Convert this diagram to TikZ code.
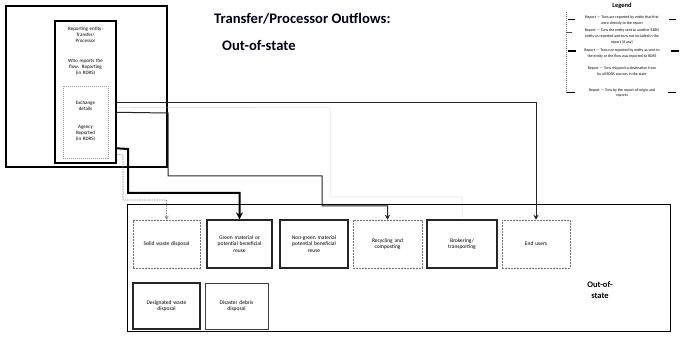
\documentclass[tikz,border=0pt]{standalone}
\usepackage{fontspec}
\setmainfont{Carlito}
\usetikzlibrary{arrows.meta,calc}
\hyphenpenalty=10000
\exhyphenpenalty=10000
\begin{document}
\begin{tikzpicture}[x=1pt,y=-1pt,
  frame/.style={draw=black,line width=1.6pt,inner sep=0pt},
  boxthick/.style={draw=black!85,line width=1.3pt,minimum height=48pt,align=center,font=\fontsize{5.5}{6.6}\selectfont,text width=60pt,inner sep=0pt},
  boxdash/.style={draw=black!55,line width=0.5pt,dash pattern=on 2pt off 1pt,minimum height=48pt,align=center,font=\fontsize{5.5}{6.6}\selectfont,text width=60pt,inner sep=0pt},
  boxmed/.style={draw=black!75,line width=0.8pt,minimum height=46pt,align=center,font=\fontsize{5.5}{6.6}\selectfont,text width=56pt,inner sep=0pt},
  srctxt/.style={align=center,font=\fontsize{5}{6}\selectfont,text width=52pt,inner sep=0pt},
  legtxt/.style={font=\fontsize{3.9}{4.6}\selectfont,inner sep=0pt,anchor=center},
  heavy/.style={draw=black,line width=2pt,-{Stealth[length=7pt,width=7pt]}},
  medium/.style={draw=black!85,line width=1pt,-{Stealth[length=5pt,width=5pt]}},
  faint/.style={draw=black!45,line width=0.6pt,dash pattern=on 1.5pt off 1pt,-{Stealth[length=4pt,width=4pt]}},
  faintline/.style={draw=black!30,line width=0.5pt,dash pattern=on 1pt off 1pt}]
\useasboundingbox (0,0) rectangle (681,339);

% title
\node[anchor=base west,inner sep=0pt,font=\fontsize{14.6}{17}\selectfont\bfseries,text=black!92!blue] (title1) at (214,24) {Transfer/Processor Outflows:};
\node[anchor=base west,inner sep=0pt,font=\fontsize{14.6}{17}\selectfont\bfseries,text=black!92!blue] (title2) at (222,51) {Out-of-state};

% source frame
\node[frame,minimum width=161pt,minimum height=161pt] (srcframe) at (86.5,86.5) {};
\node[draw=black,line width=1.4pt,minimum width=61pt,minimum height=142pt,inner sep=0pt] (src) at (85.5,92) {};
\node[draw=black!40,line width=0.6pt,dash pattern=on 1pt off 1pt,minimum width=45pt,minimum height=72pt,inner sep=0pt] (exch) at (85.5,122) {};
\node[srctxt] (s1) at (85.5,35) {Reporting entity:\\Transfer/\\Processor};
\node[srctxt] (s2) at (85.5,67) {Who reports the\\flow: Reporting\\(in RDRS)};
\node[srctxt,text width=42pt] (s3) at (85.5,106) {Exchange\\details};
\node[srctxt,text width=42pt] (s4) at (85.5,133) {Agency\\Reported\\(in RDRS)};

% legend
\node[inner sep=0pt,font=\fontsize{6.5}{8}\selectfont\bfseries] (legtitle) at (622,6) {Legend};
\draw[faintline,draw=black!55] (566,12) -- (566,93);
\node[legtxt] (l1) at (622,17) {Report — Tons are reported by entity that first};
\node[legtxt] (l2) at (622,23) {were directly to the report};
\node[legtxt] (l3) at (622,30) {Report — Tons the entity sent to another RDRS};
\node[legtxt] (l4) at (622,36) {entity as reported and tons not included in the};
\node[legtxt] (l5) at (622,42) {report (if any)};
\node[legtxt] (l6) at (622,50) {Report — Tons not reported by entity as sent to};
\node[legtxt] (l7) at (622,56) {the entity or the flow was reported to RDRS};
\node[legtxt] (l8) at (622,68) {Report — Tons shipped to destination from};
\node[legtxt] (l9) at (622,74) {by all RDRS sources in the state};
\node[legtxt] (l10) at (622,90) {Report — Tons by the report of origin and};
\node[legtxt] (l11) at (622,96) {reports};
\draw[black,line width=0.8pt] (568,19) -- (575,19);
\draw[black,line width=0.8pt] (669,19) -- (676,19);
\draw[black!70,line width=0.5pt] (566,32) -- (572,32);
\draw[black,line width=1.4pt] (568,51) -- (576,51);
\draw[black,line width=1.4pt] (671,51) -- (679,51);
\draw[black,line width=0.8pt] (567,92) -- (575,92);
\draw[black,line width=0.8pt] (668,92) -- (676,92);

% out-of-state frame
\node[draw=black,line width=1pt,minimum width=543pt,minimum height=127pt,inner sep=0pt] (oos) at (398.5,268.5) {};
\node[inner sep=0pt,align=center,font=\fontsize{8.5}{10.5}\selectfont\bfseries] (oostxt) at (600,290) {Out-of-\\state};

% destination boxes
\node[boxdash,minimum width=67pt] (b1) at (166.5,244) {Solid waste disposal};
\node[boxthick,minimum width=65pt] (b2) at (239.5,244) {Green material or\\potential beneficial\\reuse};
\node[boxthick,minimum width=68pt] (b3) at (314,244) {Non-green material\\potential beneficial\\reuse};
\node[boxdash,minimum width=69pt] (b4) at (387.5,244) {Recycling and\\composting};
\node[boxthick,minimum width=70pt] (b5) at (462,244) {Brokering/\\transporting};
\node[boxdash,minimum width=68pt] (b6) at (536,244) {End users};
\node[boxthick,minimum width=67pt,minimum height=46pt] (b7) at (166.5,306) {Designated waste\\disposal};
\node[boxmed,minimum width=63pt] (b8) at (236.5,306) {Disaster debris\\disposal};

% connectors
\coordinate (e1) at ($(src.north east)+(0,82)$);
\coordinate (e2) at ($(src.north east)+(0,92)$);
\coordinate (e3) at ($(src.north east)+(0,87)$);
\coordinate (e4) at ($(src.north east)+(0,128)$);
\coordinate (e5) at ($(src.north east)+(0,134)$);

\draw[faintline] (e3) -- (330,108) -- (330,197) -| (b5.north);
\draw[medium] (e1) -| (b6.north);
\draw[medium] (e2) -- (168,113) -- (168,176) -- (322,176) -- (322,206) -| (b4.north);
\draw[faint] (e5) -- (123,155) -- (123,200) -| (b1.north);
\draw[heavy] (e4) -- (128,149) -- (128,193) -| (b2.north);
\end{tikzpicture}
\end{document}
